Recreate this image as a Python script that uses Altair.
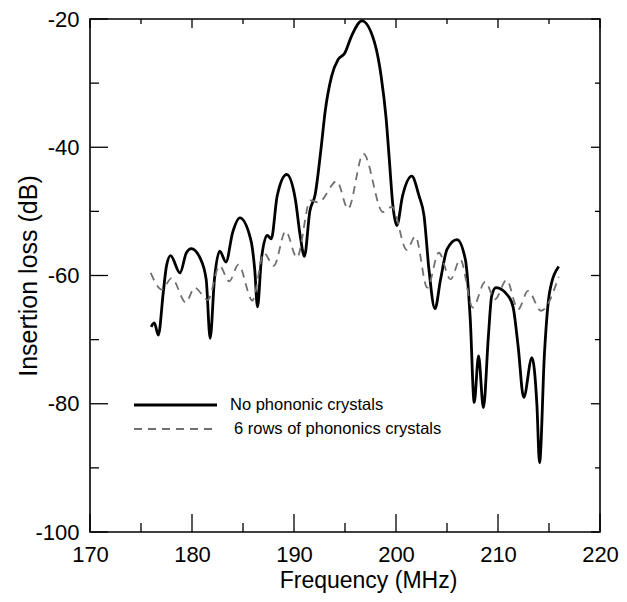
import altair as alt
import pandas as pd

# ---- data ----
black_f = [176.0, 176.3, 176.7, 177.18, 177.5, 177.9, 178.82, 179.45, 179.93, 180.8,
           181.39, 181.78, 182.2, 182.72, 183.33, 183.98, 184.69, 185.76, 186.15, 186.42,
           186.8, 187.38, 187.77, 188.35, 189.28, 190.13, 190.61, 191.02, 191.55, 192.07,
           192.7, 193.04, 193.69, 194.33, 194.98, 195.63, 196.66, 197.9, 198.54, 199.03,
           199.35, 199.67, 200.08, 200.64, 201.54, 202.26, 202.75, 203.23, 203.82, 204.37,
           205.01, 205.98, 206.8, 207.28, 207.67, 208.09, 208.57, 209.06, 209.38, 209.8,
           211.0, 211.49, 211.97, 212.52, 213.33, 213.82, 214.07, 214.56, 215.05, 215.95]
black_db = [-68.0, -67.4, -69.3, -62.7, -58.5, -56.9, -59.6, -56.45, -55.8, -57.3,
            -60.6, -69.8, -60.6, -56.2, -57.9, -53.3, -51.0, -54.4, -59.1, -64.9,
            -57.5, -53.75, -54.3, -47.6, -44.25, -48.1, -53.85, -57.0, -50.0, -47.4,
            -39.5, -34.6, -28.9, -26.3, -25.3, -22.7, -20.3, -23.7, -28.9, -35.5,
            -42.0, -48.7, -52.2, -47.6, -44.5, -47.6, -50.7, -59.05, -65.2, -60.6,
            -55.9, -54.4, -57.5, -66.8, -79.8, -72.55, -80.6, -69.4, -63.2, -61.9,
            -63.2, -65.0, -71.0, -79.0, -72.8, -80.35, -89.2, -72.0, -62.7, -58.6]

gray_f = [175.95, 177.05, 178.0, 179.4, 180.25, 181.55, 182.7, 183.65, 184.55, 185.92,
          187.05, 188.02, 189.18, 190.29, 191.6, 192.4, 194.2, 195.3, 196.8, 198.72,
          199.6, 201.05, 201.9, 203.07, 204.2, 205.34, 206.3, 207.53, 208.74, 209.71,
          210.84, 211.97, 212.94, 214.23, 215.95]
gray_db = [-59.6, -62.2, -60.4, -64.2, -61.9, -63.8, -58.5, -60.9, -58.3, -63.9,
           -56.5, -58.5, -53.1, -57.2, -48.3, -48.6, -45.3, -49.6, -41.0, -50.1,
           -49.3, -56.0, -53.9, -61.9, -56.45, -60.6, -57.5, -65.0, -61.0, -63.7,
           -60.7, -65.3, -62.4, -65.5, -60.2]

series_names = ["No phononic crystals", "6 rows of phononics crystals"]
x_tick_values = [170, 175, 180, 185, 190, 195, 200, 205, 210, 215, 220]
x_label_values = [170, 180, 190, 200, 210, 220]
y_tick_values = [-100, -90, -80, -70, -60, -50, -40, -30, -20]
y_label_values = [-100, -80, -60, -40, -20]

W, H = 510, 513
FONT = "Liberation Sans"

black_df = pd.DataFrame({"f": black_f, "db": black_db})
gray_df = pd.DataFrame({"f": gray_f, "db": gray_db})
xt = pd.DataFrame({"v": x_tick_values, "major": [v % 10 == 0 for v in x_tick_values]})
yt = pd.DataFrame({"v": y_tick_values, "major": [v % 20 == 0 for v in y_tick_values]})

xscale = alt.Scale(domain=[170, 220], nice=False, zero=False)
yscale = alt.Scale(domain=[-100, -20], nice=False, zero=False)

xaxis = alt.Axis(values=x_label_values, title="Frequency (MHz)", ticks=False, domain=False,
                 grid=False, labelFont=FONT, labelFontSize=22, labelColor="black",
                 labelPadding=12, labelFlush=False, labelExpr="'' + datum.value",
                 titleFont=FONT, titleFontSize=23, titleFontWeight="normal",
                 titleColor="black", titleX=278, titleY=55, titleBaseline="alphabetic",
                 titleAlign="center")
yaxis = alt.Axis(values=y_label_values, title="Insertion loss (dB)", ticks=False, domain=False,
                 grid=False, labelFont=FONT, labelFontSize=22, labelColor="black",
                 labelPadding=11, labelFlush=False, labelExpr="'' + datum.value",
                 titleFont=FONT, titleFontSize=25, titleFontWeight="normal",
                 titleColor="black", titleX=-62, titleY=H / 2, titleAngle=270,
                 titleBaseline="middle", titleAlign="center")

black_line = alt.Chart(black_df).mark_line(color="black", strokeWidth=2.8,
                                           interpolate="monotone").encode(
    x=alt.X("f:Q", scale=xscale, axis=xaxis),
    y=alt.Y("db:Q", scale=yscale, axis=yaxis),
)
gray_line = alt.Chart(gray_df).mark_line(color="#707070", strokeWidth=1.8,
                                         strokeDash=[8, 6], interpolate="monotone").encode(
    x=alt.X("f:Q", scale=xscale),
    y=alt.Y("db:Q", scale=yscale),
)

def xticks(major, y0, y1):
    return alt.Chart(xt).transform_filter(
        alt.datum.major if major else ~alt.datum.major
    ).mark_rule(color="black", strokeWidth=1.3).encode(
        x=alt.X("v:Q", scale=xscale), y=alt.value(y0), y2=alt.value(y1))

def yticks(major, x0, x1):
    return alt.Chart(yt).transform_filter(
        alt.datum.major if major else ~alt.datum.major
    ).mark_rule(color="black", strokeWidth=1.3).encode(
        y=alt.Y("v:Q", scale=yscale), x=alt.value(x0), x2=alt.value(x1))

ticks = [
    xticks(True, H, H - 18), xticks(False, H, H - 9),
    xticks(True, 0, 9), xticks(False, 0, 5),
    yticks(True, 0, 18), yticks(False, 0, 9),
    yticks(True, W, W - 9), yticks(False, W, W - 5),
]

leg_df = pd.DataFrame({"name": series_names})
leg_black = alt.Chart(leg_df).transform_filter(alt.datum.name == series_names[0]).mark_rule(
    color="black", strokeWidth=2.8).encode(x=alt.value(44), x2=alt.value(127), y=alt.value(386))
leg_gray = alt.Chart(leg_df).transform_filter(alt.datum.name == series_names[1]).mark_rule(
    color="#707070", strokeWidth=1.8, strokeDash=[8, 6]).encode(
    x=alt.value(44), x2=alt.value(127), y=alt.value(410))
leg_t1 = alt.Chart(leg_df).transform_filter(alt.datum.name == series_names[0]).mark_text(
    align="left", baseline="middle", font=FONT, fontSize=16.5, color="black").encode(
    text="name:N", x=alt.value(140), y=alt.value(386))
leg_t2 = alt.Chart(leg_df).transform_filter(alt.datum.name == series_names[1]).mark_text(
    align="left", baseline="middle", font=FONT, fontSize=16.5, color="black").encode(
    text="name:N", x=alt.value(144), y=alt.value(410))

chart = alt.layer(black_line, gray_line, *ticks, leg_black, leg_gray, leg_t1, leg_t2).properties(
    width=W, height=H,
    background="white",
    autosize=alt.AutoSizeParams(type="none"),
    padding={"left": 82, "top": 11, "right": 19, "bottom": 62},
).configure_view(stroke="black", strokeWidth=1.6)

chart.save("out.html", embed_options={"renderer": "svg", "actions": False})
